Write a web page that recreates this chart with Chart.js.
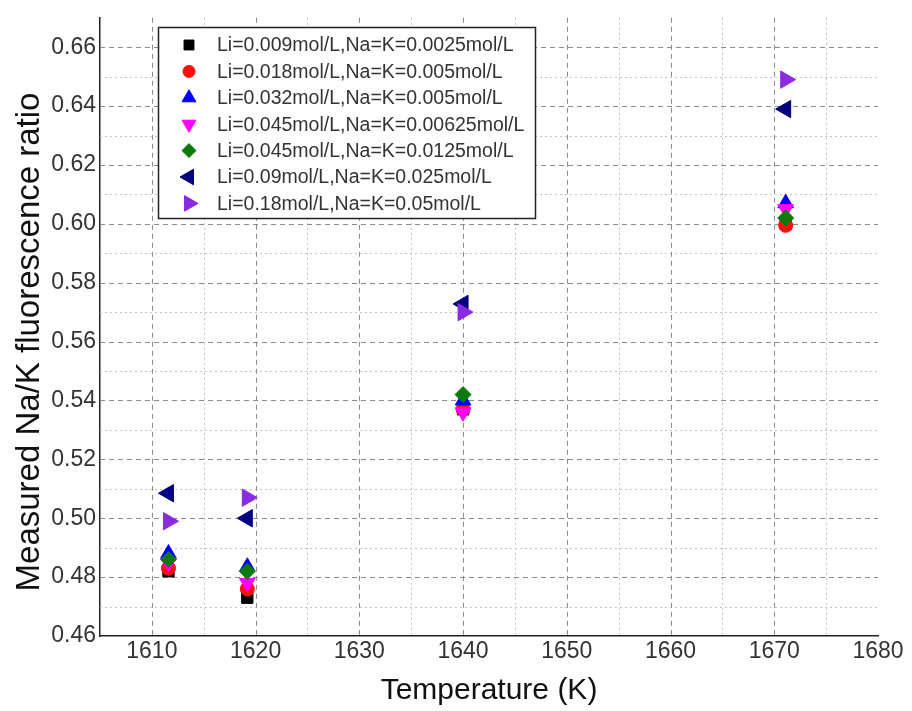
<!DOCTYPE html>
<html>
<head>
<meta charset="utf-8">
<script src="https://cdn.jsdelivr.net/npm/chart.js@4.4.1/dist/chart.umd.min.js"></script>
<style>
  body { margin: 0; background: #fff; }
  #wrap { width: 912px; height: 711px; }
</style>
</head>
<body>
<div id="wrap"><canvas id="chart"></canvas></div>
<script>
// measured points, one value per temperature
const temps = [1611.6, 1619.2, 1640, 1671.1];
const seriesNames = [
  "Li=0.009mol/L,Na=K=0.0025mol/L",
  "Li=0.018mol/L,Na=K=0.005mol/L",
  "Li=0.032mol/L,Na=K=0.005mol/L",
  "Li=0.045mol/L,Na=K=0.00625mol/L",
  "Li=0.045mol/L,Na=K=0.0125mol/L",
  "Li=0.09mol/L,Na=K=0.025mol/L",
  "Li=0.18mol/L,Na=K=0.05mol/L"
];
const li009 = [0.482, 0.473, 0.537, 0.600];
const li018 = [0.483, 0.476, 0.537, 0.5995];
const li032 = [0.488, 0.4835, 0.540, 0.607];
const li045a = [0.485, 0.478, 0.536, 0.605];
const li045b = [0.486, 0.482, 0.542, 0.602];
const li09 = [0.5085, 0.500, 0.5728, 0.639];
const li18 = [0.499, 0.507, 0.570, 0.649];

const xTicks = [1610, 1620, 1630, 1640, 1650, 1660, 1670, 1680];
const yTicks = [0.46, 0.48, 0.50, 0.52, 0.54, 0.56, 0.58, 0.60, 0.62, 0.64, 0.66];
const xGridMajor = [1610, 1620, 1630, 1640, 1650, 1660, 1670];
const xGridMinor = [1615, 1625, 1635, 1645, 1655, 1665, 1675];
const yGridMajor = [0.48, 0.50, 0.52, 0.54, 0.56, 0.58, 0.60, 0.62, 0.64, 0.66];
const yGridMinor = [0.47, 0.49, 0.51, 0.53, 0.55, 0.57, 0.59, 0.61, 0.63, 0.65];

const allSeries = [li009, li018, li032, li045a, li045b, li09, li18];

const styles = [
  { color: "#000000", shape: "rect", rot: 0, r: 8 },
  { color: "#ff1010", shape: "circle", rot: 0, r: 7 },
  { color: "#0000ff", shape: "triangle", rot: 0, r: 9 },
  { color: "#ff00ff", shape: "triangle", rot: 180, r: 9 },
  { color: "#0a7a0a", shape: "rectRot", rot: 0, r: 8 },
  { color: "#000080", shape: "triangle", rot: -90, r: 10 },
  { color: "#8a2be2", shape: "triangle", rot: 90, r: 10 }
];

const FONT = "'Liberation Sans', Arial, sans-serif";

const datasets = allSeries.map((vals, i) => ({
  label: seriesNames[i],
  data: temps.map((t, j) => ({ x: t, y: vals[j] })),
  backgroundColor: styles[i].color,
  borderColor: styles[i].color,
  borderWidth: 1,
  pointStyle: styles[i].shape,
  rotation: styles[i].rot,
  pointRadius: styles[i].r,
  order: 6 - i
}));

function drawLines(ctx, area, vals, scale, vertical) {
  vals.forEach(v => {
    const p = Math.round(scale.getPixelForValue(v)) + 0.5;
    ctx.beginPath();
    if (vertical) {
      ctx.moveTo(p, area.top);
      ctx.lineTo(p, area.bottom);
    } else {
      ctx.moveTo(area.left, p);
      ctx.lineTo(area.right, p);
    }
    ctx.stroke();
  });
}

const extras = {
  id: "extras",
  beforeDatasetsDraw(chart) {
    const { ctx, chartArea } = chart;
    const xs = chart.scales.x, ys = chart.scales.y;
    ctx.save();
    ctx.lineWidth = 1;
    // minor grid
    ctx.strokeStyle = "#c4c4c4";
    ctx.setLineDash([2, 3]);
    drawLines(ctx, chartArea, yGridMinor, ys, false);
    drawLines(ctx, chartArea, xGridMinor, xs, true);
    // major grid
    ctx.strokeStyle = "#8c8c8c";
    ctx.setLineDash([5, 4]);
    drawLines(ctx, chartArea, yGridMajor, ys, false);
    drawLines(ctx, chartArea, xGridMajor, xs, true);
    ctx.restore();
  },
  afterDraw(chart) {
    const ctx = chart.ctx;
    ctx.save();
    // y axis title
    ctx.translate(30, 342);
    ctx.rotate(-Math.PI / 2);
    ctx.fillStyle = "#111";
    ctx.font = "33px " + FONT;
    ctx.textAlign = "center";
    ctx.textBaseline = "middle";
    ctx.fillText("Measured Na/K fluorescence ratio", 0, 0);
    ctx.restore();

    // legend box
    ctx.save();
    ctx.fillStyle = "#fff";
    ctx.fillRect(158, 27, 377, 191);
    ctx.strokeStyle = "#222";
    ctx.lineWidth = 1.5;
    ctx.strokeRect(158.5, 27.5, 377, 191);
    ctx.font = "19.5px " + FONT;
    ctx.textBaseline = "middle";
    ctx.textAlign = "left";
    seriesNames.forEach((name, i) => {
      const y = 45 + i * 26.4;
      const st = styles[i];
      ctx.fillStyle = st.color;
      ctx.strokeStyle = st.color;
      ctx.lineWidth = 1;
      Chart.helpers.drawPoint(ctx, {
        pointStyle: st.shape,
        rotation: st.rot,
        radius: st.r - 1,
        borderWidth: 1
      }, 189, y);
      ctx.fillStyle = "#333";
      ctx.fillText(name, 217, y + 1);
    });
    ctx.restore();
  }
};

new Chart(document.getElementById("chart"), {
  type: "scatter",
  data: { datasets: datasets },
  options: {
    responsive: true,
    maintainAspectRatio: false,
    animation: false,
    devicePixelRatio: 1,
    layout: { padding: { top: 10, right: 34, left: 0, bottom: 0 } },
    plugins: { legend: { display: false }, tooltip: { enabled: false } },
    scales: {
      x: {
        type: "linear",
        min: 1605,
        max: 1680,
        afterBuildTicks: s => { s.ticks = xTicks.map(v => ({ value: v })); },
        afterFit: s => { s.height = 75; },
        grid: { display: false, drawTicks: false },
        border: { display: true, color: "#222", width: 1.5 },
        ticks: {
          color: "#333",
          padding: 2,
          maxRotation: 0,
          font: { family: FONT, size: 23 },
          callback: v => String(v)
        },
        title: {
          display: true,
          text: "Temperature (K)",
          color: "#111",
          font: { family: FONT, size: 30 },
          padding: { top: 0, bottom: 2 }
        }
      },
      y: {
        min: 0.46,
        max: 0.67,
        afterBuildTicks: s => { s.ticks = yTicks.map(v => ({ value: v })); },
        afterFit: s => { s.width = 100; },
        grid: { display: false, drawTicks: false },
        border: { display: true, color: "#222", width: 1.5 },
        ticks: {
          color: "#333",
          padding: 4,
          font: { family: FONT, size: 23 },
          callback: v => v.toFixed(2)
        }
      }
    }
  },
  plugins: [extras]
});
</script>
</body>
</html>
